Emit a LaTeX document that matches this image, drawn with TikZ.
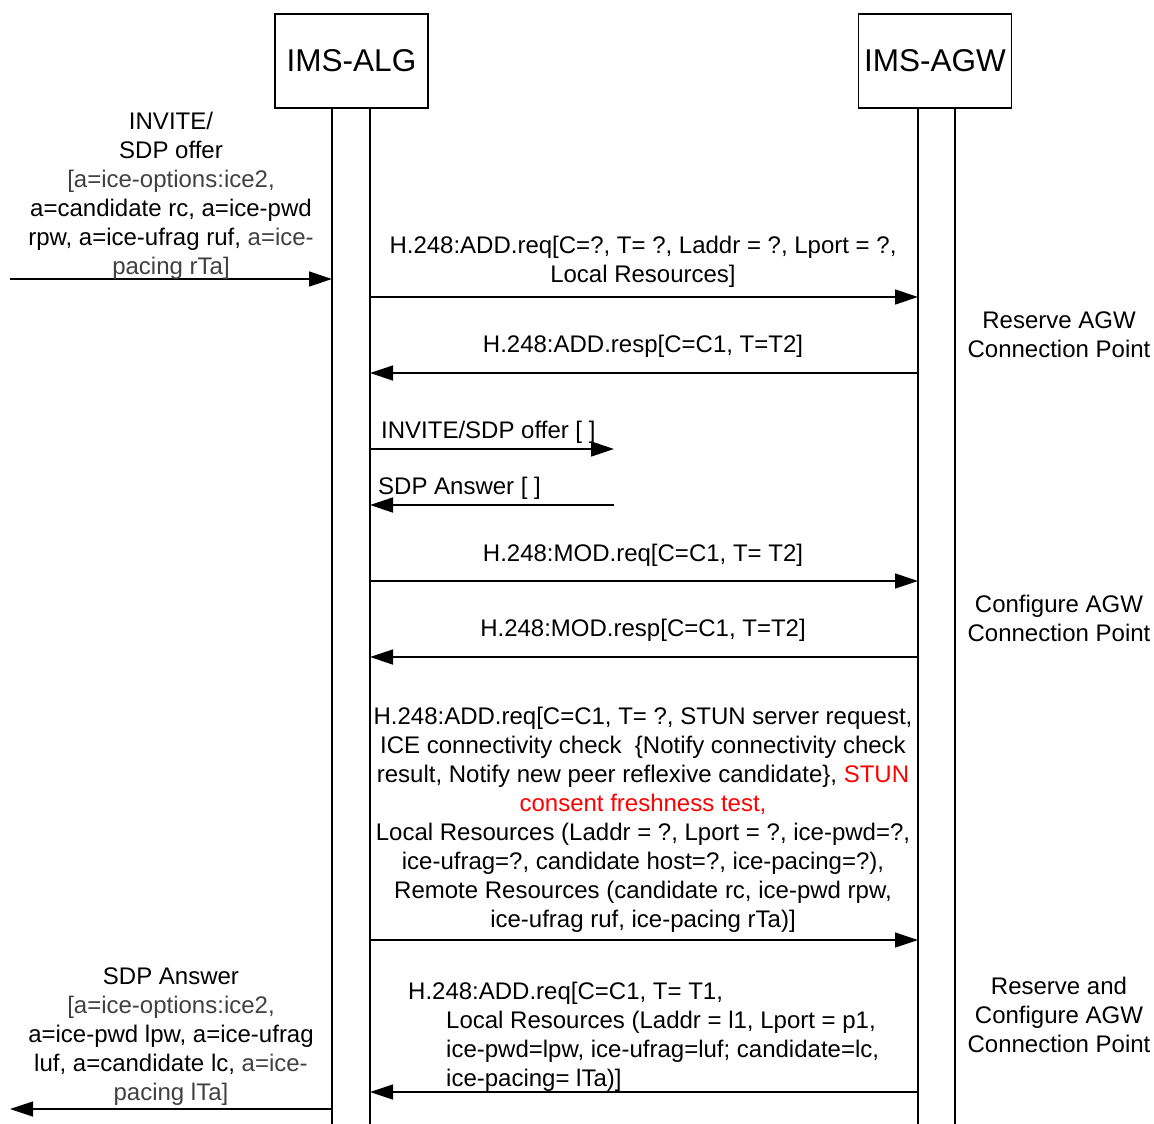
\documentclass[tikz,border=0pt]{standalone}
\usepackage{fontspec}
\setmainfont{Liberation Sans}
\usepackage{tikz}
\usetikzlibrary{positioning,arrows.meta}
\definecolor{txtgray}{RGB}{64,64,64}
\definecolor{txtred}{RGB}{255,0,0}

\begin{document}
\begin{tikzpicture}[x=1pt, y=-1pt,
  ent/.style={draw, line width=1.3pt, minimum width=153pt, minimum height=94pt,
              font=\fontsize{31.5}{36}\selectfont, inner sep=0pt},
  life/.style={line width=1.3pt},
  msg/.style={-{Triangle[length=23pt,width=15pt]}, line width=1.3pt},
  lbl/.style={align=center, inner sep=0pt, anchor=north,
              font=\fontsize{24}{29}\selectfont},
  note/.style={lbl}]
\useasboundingbox (0,0) rectangle (1154,1124);
% entities and lifelines
\node[ent] (alg) at (351.5,61) {IMS-ALG};
\node[ent] (agw) at (935,61) {IMS-AGW};
\coordinate (algL) at (332,108); \coordinate (algR) at (370,108);
\coordinate (agwL) at (918,108); \coordinate (agwR) at (955,108);
\coordinate (bot) at (0,1124);
\coordinate (ext) at (10,0); \coordinate (mid) at (614,0);
\draw[life] (algL) -- (algL |- bot); \draw[life] (algR) -- (algR |- bot);
\draw[life] (agwL) -- (agwL |- bot); \draw[life] (agwR) -- (agwR |- bot);
% message levels
\coordinate (y1) at (0,279); \coordinate (y2) at (0,297);
\coordinate (y3) at (0,373); \coordinate (y4) at (0,449);
\coordinate (y5) at (0,505); \coordinate (y6) at (0,581);
\coordinate (y7) at (0,657); \coordinate (y8) at (0,940);
\coordinate (y9) at (0,1092); \coordinate (y10) at (0,1109);
\draw[msg] (ext |- y1) -- (algL |- y1);
\draw[msg] (algR |- y2) -- (agwL |- y2);
\draw[msg] (agwL |- y3) -- (algR |- y3);
\draw[msg] (algR |- y4) -- (mid |- y4);
\draw[msg] (mid |- y5) -- (algR |- y5);
\draw[msg] (algR |- y6) -- (agwL |- y6);
\draw[msg] (agwL |- y7) -- (algR |- y7);
\draw[msg] (algR |- y8) -- (agwL |- y8);
\draw[msg] (agwL |- y9) -- (algR |- y9);
\draw[msg] (algL |- y10) -- (ext |- y10);
% labels
\node[lbl] (invite) at (171,112) {INVITE/\\SDP offer\\{\color{txtgray}[a=ice-options:ice2,}\\
  a=candidate rc, a=ice-pwd\\rpw, a=ice-ufrag ruf, {\color{txtgray}a=ice-}\\
  {\color{txtgray}pacing rTa]}};
\node[lbl] (addreq1) at (643,235.5) {H.248:ADD.req[C=?, T= ?, Laddr = ?, Lport = ?,\\Local Resources]};
\node[lbl] (addresp) at (643,334.5) {H.248:ADD.resp[C=C1, T=T2]};
\node[lbl, anchor=north west] (offer) at (381,420.5) {INVITE/SDP offer [ ]};
\node[lbl, anchor=north west] (answer) at (378,476.5) {SDP Answer [ ]};
\node[lbl] (modreq) at (643,543.5) {H.248:MOD.req[C=C1, T= T2]};
\node[lbl] (modresp) at (643,618.5) {H.248:MOD.resp[C=C1, T=T2]};
\node[lbl] (addreq2) at (643,706.5) {H.248:ADD.req[C=C1, T= ?, STUN server request,\\
  ICE connectivity check\ \ \{Notify connectivity check\\
  result, Notify new peer reflexive candidate\}, {\color{txtred}STUN}\\
  {\color{txtred}consent freshness test,}\\
  Local Resources (Laddr = ?, Lport = ?, ice-pwd=?,\\
  ice-ufrag=?, candidate host=?, ice-pacing=?),\\
  Remote Resources (candidate rc, ice-pwd rpw,\\
  ice-ufrag ruf, ice-pacing rTa)]};
\node[lbl, align=left, anchor=north west] (addreq3) at (408,981.5) {H.248:ADD.req[C=C1, T= T1,\\
  \hspace*{38pt}Local Resources (Laddr = l1, Lport = p1,\\
  \hspace*{38pt}ice-pwd=lpw, ice-ufrag=luf; candidate=lc,\\
  \hspace*{38pt}ice-pacing= lTa)]};
\node[lbl] (sdpans) at (171,967.5) {SDP Answer\\{\color{txtgray}[a=ice-options:ice2,}\\
  a=ice-pwd lpw, a=ice-ufrag\\luf, a=candidate lc, {\color{txtgray}a=ice-}\\
  {\color{txtgray}pacing lTa]}};
% side notes
\node[note] (n1) at (1059,312) {Reserve AGW\\Connection Point};
\node[note] (n2) at (1059,594.5) {Configure AGW\\Connection Point};
\node[note] (n3) at (1059,976.5) {Reserve and\\Configure AGW\\Connection Point};
\end{tikzpicture}
\end{document}
